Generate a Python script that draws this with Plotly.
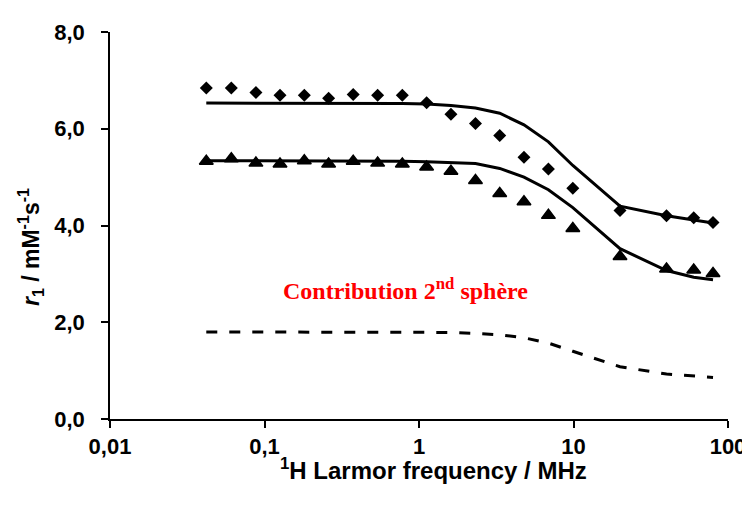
import plotly.graph_objects as go

freq = [0.042, 0.061, 0.088, 0.126, 0.181, 0.26, 0.375, 0.54, 0.78, 1.12,
        1.61, 2.32, 3.33, 4.78, 6.88, 9.9, 20, 40, 60, 80]
r1_diamond = [6.84, 6.84, 6.75, 6.69, 6.69, 6.63, 6.71, 6.69, 6.69, 6.54,
              6.30, 6.11, 5.86, 5.41, 5.17, 4.77, 4.31, 4.20, 4.16, 4.06]
r1_triangle = [5.33, 5.38, 5.29, 5.27, 5.34, 5.27, 5.33, 5.29, 5.27, 5.21,
               5.12, 4.93, 4.66, 4.49, 4.21, 3.94, 3.36, 3.10, 3.08, 3.01]
fit_upper = [6.53, 6.53, 6.53, 6.53, 6.53, 6.53, 6.53, 6.53, 6.52, 6.51,
             6.48, 6.43, 6.32, 6.08, 5.73, 5.24, 4.40, 4.20, 4.12, 4.05]
fit_lower = [5.34, 5.34, 5.34, 5.34, 5.34, 5.34, 5.34, 5.34, 5.33, 5.32,
             5.30, 5.28, 5.18, 5.00, 4.74, 4.37, 3.52, 3.07, 2.93, 2.88]
second_sphere = [1.80, 1.80, 1.80, 1.80, 1.80, 1.80, 1.80, 1.80, 1.80, 1.80,
                 1.79, 1.77, 1.74, 1.68, 1.57, 1.40, 1.08, 0.93, 0.88, 0.86]

x_tickvals = [0.01, 0.1, 1, 10, 100]
x_ticktext = ["<b>0,01</b>", "<b>0,1</b>", "<b>1</b>", "<b>10</b>", "<b>100</b>"]
y_tickvals = [0, 2, 4, 6, 8]
y_ticktext = ["<b>0,0</b>", "<b>2,0</b>", "<b>4,0</b>", "<b>6,0</b>", "<b>8,0</b>"]

fig = go.Figure()
fig.add_trace(go.Scatter(x=freq, y=fit_upper, mode="lines",
                         line=dict(color="black", width=3), showlegend=False))
fig.add_trace(go.Scatter(x=freq, y=fit_lower, mode="lines",
                         line=dict(color="black", width=3), showlegend=False))
fig.add_trace(go.Scatter(x=freq, y=second_sphere, mode="lines",
                         line=dict(color="black", width=3, dash="11px,12px"),
                         showlegend=False))
fig.add_trace(go.Scatter(x=freq, y=r1_diamond, mode="markers",
                         marker=dict(symbol="diamond", size=10, color="black"),
                         showlegend=False))
fig.add_trace(go.Scatter(x=freq, y=r1_triangle, mode="markers",
                         marker=dict(symbol="triangle-up", size=12, color="black",
                                     line=dict(color="black", width=1.5)),
                         showlegend=False))

axis_font = dict(family="Liberation Sans, Arial", size=22, color="black")

fig.update_layout(
    width=750, height=505,
    margin=dict(l=102, r=30, t=22, b=94),
    paper_bgcolor="white", plot_bgcolor="white",
    xaxis=dict(type="log", range=[-2, 2], tickvals=x_tickvals, ticktext=x_ticktext,
               showgrid=False, zeroline=False, showline=True, linecolor="black",
               linewidth=1.5, ticks="outside", ticklen=7, tickwidth=1.5,
               tickcolor="black", tickfont=axis_font),
    yaxis=dict(range=[0, 8], tickvals=y_tickvals, ticktext=y_ticktext,
               showgrid=False, zeroline=False, showline=True, linecolor="black",
               linewidth=1.5, ticks="outside", ticklen=7, tickwidth=1.5,
               tickcolor="black", tickfont=axis_font, ticklabelstandoff=12),
    annotations=[
        dict(text="<b>Contribution 2<sup>nd</sup> sphère</b>", xref="paper", yref="y",
             x=0.478, y=2.68, showarrow=False,
             font=dict(family="Liberation Serif, Times New Roman", size=24, color="red")),
        dict(text="<b><sup>1</sup>H Larmor frequency / MHz</b>", xref="paper", yref="paper",
             x=0.524, y=-0.129, yanchor="middle", showarrow=False,
             font=dict(family="Liberation Sans, Arial", size=24, color="black")),
        dict(text="<b><i>r</i><sub>1</sub> / mM<sup>-1</sup>s<sup>-1</sup></b>",
             xref="paper", yref="paper", x=-0.129, y=0.445, xanchor="center",
             yanchor="middle", textangle=-90, showarrow=False,
             font=dict(family="Liberation Sans, Arial", size=23, color="black")),
    ],
)

fig.write_html("out.html")
